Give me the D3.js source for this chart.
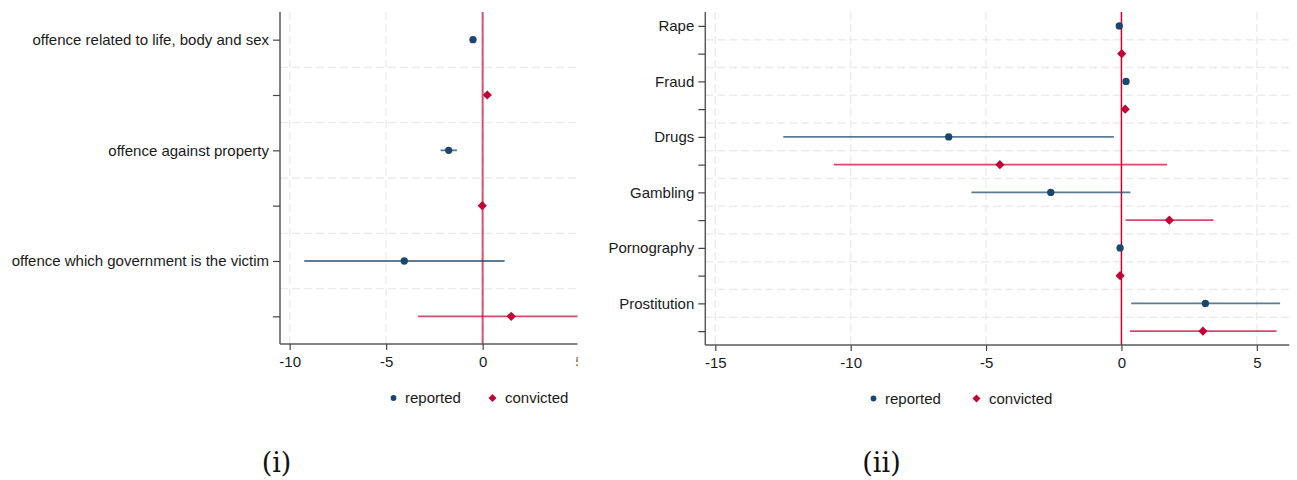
<!DOCTYPE html>
<html>
<head>
<meta charset="utf-8">
<script src="https://cdn.jsdelivr.net/npm/d3@7"></script>
<style>
  html, body { margin: 0; padding: 0; background: #fff; }
  svg { display: block; }
  .lbl { font-family: "Liberation Sans", Arial, sans-serif; font-size: 15px; fill: #1a1a1a; }
  .cap { font-family: "DejaVu Serif", "Liberation Serif", serif; font-size: 27px; fill: #111; }
</style>
</head>
<body>
<svg id="fig" width="1297" height="480"></svg>
<script>
// ---- Panel (i): offence groups ----
const groupsI = ["offence related to life, body and sex", "offence against property", "offence which government is the victim"];
const reportedI   = [-0.50, -1.76, -4.06];
const reportedILo = [-0.58, -2.18, -9.24];
const reportedIHi = [-0.42, -1.33, 1.14];
const convictedI   = [0.24, -0.02, 1.48];
const convictedILo = [0.16, -0.10, -3.34];
const convictedIHi = [0.32, 0.06, 6.30];
const ticksI = [-10, -5, 0, 5];

// ---- Panel (ii): individual offences ----
const groupsII = ["Rape", "Fraud", "Drugs", "Gambling", "Pornography", "Prostitution"];
const reportedII   = [-0.08, 0.17, -6.38, -2.61, -0.05, 3.10];
const reportedIILo = [-0.12, 0.09, -12.49, -5.54, -0.09, 0.36];
const reportedIIHi = [-0.04, 0.25, -0.28, 0.33, -0.01, 5.86];
const convictedII   = [0.01, 0.14, -4.49, 1.77, -0.05, 3.01];
const convictedIILo = [-0.04, 0.08, -10.62, 0.15, -0.10, 0.31];
const convictedIIHi = [0.06, 0.20, 1.68, 3.40, 0.00, 5.73];
const ticksII = [-15, -10, -5, 0, 5];

const legendLabels = ["reported", "convicted"];
const captions = ["(i)", "(ii)"];

const BLUE = "#1a476f";
const RED = "#c10534";

const svg = d3.select("#fig");

// square diamond marker with half-diagonal r
const diamondPath = r => `M0,${-r}L${r},0L0,${r}L${-r},0Z`;

function drawPanel(opt) {
  const g = svg.append("g");

  // one row per estimate: reported then convicted for every group
  const rows = [];
  opt.groups.forEach((name, i) => {
    rows.push({ key: name + "|r", label: name, type: "reported", est: opt.rep[i], lo: opt.repLo[i], hi: opt.repHi[i] });
    rows.push({ key: name + "|c", label: "", type: "convicted", est: opt.con[i], lo: opt.conLo[i], hi: opt.conHi[i] });
  });

  const x = d3.scaleLinear().domain(opt.xDomain).range([opt.left, opt.right]);
  const y = d3.scalePoint().domain(rows.map(d => d.key)).range([opt.top, opt.bottom]).padding(0.5);
  const step = y.step();

  // gridlines
  const grid = g.append("g").attr("stroke", "#ebebeb").attr("stroke-width", 1.3).attr("stroke-dasharray", "8,4");
  grid.selectAll("line.h").data(rows.slice(0, -1)).join("line")
    .attr("x1", opt.left).attr("x2", opt.right)
    .attr("y1", d => y(d.key) + step / 2).attr("y2", d => y(d.key) + step / 2);
  grid.selectAll("line.v").data(opt.ticks).join("line")
    .attr("x1", d => x(d)).attr("x2", d => x(d))
    .attr("y1", opt.top).attr("y2", opt.bottom);

  // zero reference line
  g.append("line")
    .attr("x1", x(0)).attr("x2", x(0)).attr("y1", opt.top).attr("y2", opt.bottom)
    .attr("stroke", RED).attr("stroke-width", opt.zeroWidth).attr("stroke-opacity", opt.zeroOpacity);

  // confidence intervals
  g.selectAll("line.ci").data(rows).join("line")
    .attr("x1", d => x(d.lo)).attr("x2", d => x(d.hi))
    .attr("y1", d => y(d.key)).attr("y2", d => y(d.key))
    .attr("stroke", d => d.type === "reported" ? BLUE : RED)
    .attr("stroke-width", 1.8).attr("stroke-opacity", 0.72);

  // point estimates
  const circ = d3.symbol().type(d3.symbolCircle).size(42);
  g.selectAll("path.pt").data(rows).join("path")
    .attr("transform", d => `translate(${x(d.est)},${y(d.key)})`)
    .attr("d", d => d.type === "reported" ? circ() : diamondPath(4.6))
    .attr("fill", d => d.type === "reported" ? BLUE : RED);

  // y axis
  const yAxis = g.append("g").attr("transform", `translate(${opt.left},0)`)
    .call(d3.axisLeft(y).tickSize(7).tickPadding(4).tickFormat(k => rows.find(r => r.key === k).label));
  yAxis.select(".domain").attr("stroke", "#5a5a5a").attr("stroke-width", 1.5).attr("d", `M0,${opt.top}V${opt.bottom}`);
  yAxis.selectAll(".tick line").attr("stroke", "#444").attr("stroke-width", 1.2);
  yAxis.selectAll(".tick text").attr("class", "lbl").attr("font-size", null).attr("font-family", null).attr("fill", null);

  // x axis
  const xAxis = g.append("g").attr("transform", `translate(0,${opt.bottom})`)
    .call(d3.axisBottom(x).tickValues(opt.ticks).tickSize(6).tickPadding(6).tickFormat(d3.format("d")));
  xAxis.select(".domain").attr("stroke", "#5a5a5a").attr("stroke-width", 1.5).attr("d", `M${opt.left},0H${opt.right}`);
  xAxis.selectAll(".tick line").attr("stroke", "#444").attr("stroke-width", 1.2);
  xAxis.selectAll(".tick text").attr("class", "lbl").attr("font-size", null).attr("font-family", null).attr("fill", null)
    .text(d => d < 0 ? "-" + Math.abs(d) : d);

  // panel (i) is cut off at its right edge
  if (opt.cutRight) {
    svg.append("rect").attr("x", opt.cutRight).attr("y", 0)
      .attr("width", 640 - opt.cutRight).attr("height", 380).attr("fill", "#fff");
  }

  // legend
  const lg = svg.append("g").attr("transform", `translate(${opt.legendX},${opt.legendY})`);
  lg.append("path").attr("d", d3.symbol().type(d3.symbolCircle).size(26)()).attr("fill", BLUE);
  lg.append("text").attr("class", "lbl").attr("x", 11.5).attr("y", 5).text(legendLabels[0]);
  lg.append("path").attr("transform", `translate(${opt.legendGap},0)`)
    .attr("d", diamondPath(4)).attr("fill", RED);
  lg.append("text").attr("class", "lbl").attr("x", opt.legendGap + 12.5).attr("y", 5).text(legendLabels[1]);

  // caption
  svg.append("text").attr("class", "cap").attr("x", opt.capX).attr("y", 472)
    .attr("text-anchor", "middle").text(opt.caption);
}

drawPanel({
  id: "i", groups: groupsI,
  rep: reportedI, repLo: reportedILo, repHi: reportedIHi,
  con: convictedI, conLo: convictedILo, conHi: convictedIHi,
  ticks: ticksI, xDomain: [-10.5, 5.2], left: 280, right: 583,
  top: 12, bottom: 344, cutRight: 577.5,
  zeroWidth: 2, zeroOpacity: 0.68,
  legendX: 393.5, legendY: 398, legendGap: 99,
  capX: 276.5, caption: captions[0]
});

drawPanel({
  id: "ii", groups: groupsII,
  rep: reportedII, repLo: reportedIILo, repHi: reportedIIHi,
  con: convictedII, conLo: convictedIILo, conHi: convictedIIHi,
  ticks: ticksII, xDomain: [-15.37, 6.2], left: 705.3, right: 1289.3,
  top: 12, bottom: 345, cutRight: null,
  zeroWidth: 1.5, zeroOpacity: 1,
  legendX: 873.5, legendY: 398.5, legendGap: 103,
  capX: 881.5, caption: captions[1]
});
</script>
</body>
</html>
